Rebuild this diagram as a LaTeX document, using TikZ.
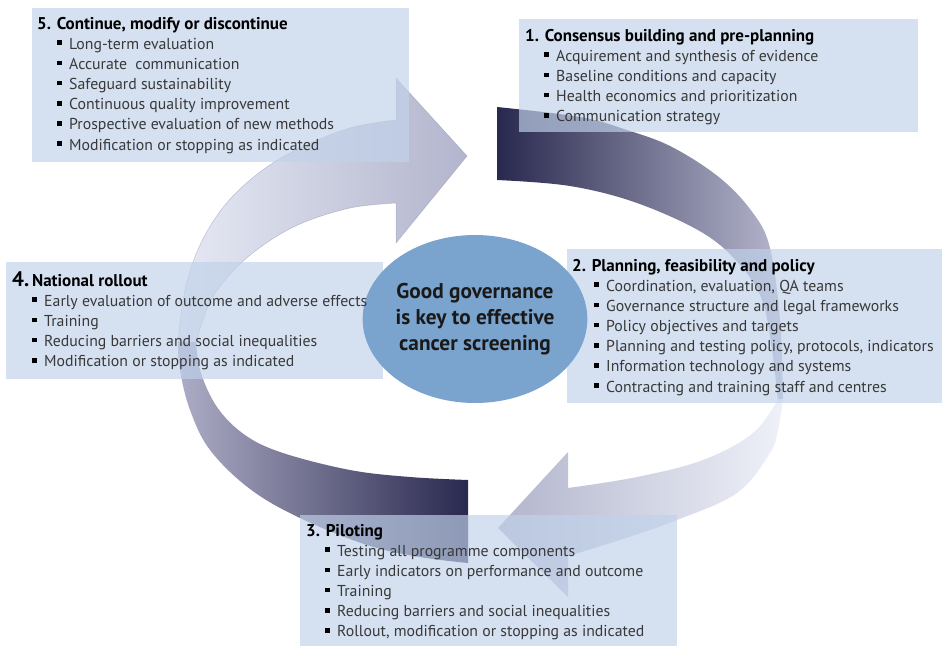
\documentclass[tikz,border=0pt]{standalone}
\usepackage{fontspec}
\setmainfont{PT Sans}
\usetikzlibrary{shapes.geometric}

\definecolor{panelfill}{HTML}{C0D2EA}
\definecolor{disc}{HTML}{7AA3CD}
\definecolor{itemtxt}{HTML}{383838}
\definecolor{navy}{HTML}{29284F}
\definecolor{navymid}{HTML}{6C6C90}
\definecolor{lav}{HTML}{B6B8CD}
\definecolor{lavlight}{HTML}{D2D5E5}
\definecolor{paleblue}{HTML}{EEF1F8}
\definecolor{headlav}{HTML}{B2B5CC}
\definecolor{greymid}{HTML}{8A8AAA}
\definecolor{greylight}{HTML}{ADADC6}
\definecolor{palelav}{HTML}{E6E9F4}
\definecolor{edge}{HTML}{8E8EA8}

\newcommand\bul{\makebox[12pt][l]{\textcolor{black}{\raisebox{4pt}{\rule{4.6pt}{4.6pt}}}}}

\tikzset{
  panel/.style={fill=panelfill, fill opacity=0.67, draw=none, inner sep=0pt,
                anchor=north west},
  ttl/.style={anchor=base west, inner sep=0pt, text=black,
              font=\bfseries\fontsize{17}{20}\selectfont},
  itm/.style={anchor=base west, inner sep=0pt, text=itemtxt,
              font=\fontsize{15.8}{19}\selectfont},
  rim/.style={draw=edge, draw opacity=0.5, line width=0.5pt},
}

\begin{document}
\begin{tikzpicture}[x=1pt, y=-1pt]
\useasboundingbox (0,0) rectangle (942,646);

% ---- right-hand ribbon arrow (phases 1 -> 3), upper half
\shade[left color=navy, middle color=navymid, right color=lav]
  plot[smooth, tension=0.6] coordinates {(497,107) (580,117) (627,130) (672,147) (720,178) (753,213) (770,248) (780,320) (783,401)}
  -- plot[smooth, tension=0.6] coordinates {(778,401) (772,350) (762,300) (740,265) (703,233) (637,203) (570,186) (497,180)}
  -- cycle;
% lower half with the head
\shade[left color=headlav, middle color=lavlight, right color=paleblue]
  plot[smooth, tension=0.6] coordinates {(783,399) (778,430) (770,453) (737,493) (677,520) (620,540) (568,556)}
  -- (568,597) -- (498,528) -- (568,452)
  -- plot[smooth, tension=0.6] coordinates {(568,488) (637,477) (703,460) (753,433) (778,399)}
  -- cycle;

% ---- left-hand ribbon arrow (phases 3 -> 5 -> 1), lower half with the tail
\shade[left color=greylight, middle color=greymid, right color=navy]
  plot[smooth, tension=0.6] coordinates {(468,563) (420,557) (367,545) (300,518) (250,489) (210,450) (190,410) (180,370) (178,338)}
  -- plot[smooth, tension=0.6] coordinates {(196,338) (200,370) (217,407) (245,435) (283,453) (350,470) (410,477) (468,480)}
  -- cycle;
% upper half with the head
\shade[left color=palelav, middle color=lavlight, right color=headlav, rim]
  plot[smooth, tension=0.6] coordinates {(178,342) (185,290) (200,245) (225,205) (260,172) (300,148) (350,128) (396,120)}
  -- (396,78) -- (467,156) -- (396,243)
  -- plot[smooth, tension=0.6] coordinates {(396,203) (350,208) (300,224) (262,246) (232,272) (210,302) (196,342)}
  -- cycle;

% ---- panels
\node[panel, minimum width=377pt, minimum height=154pt] (p5) at (32,8) {};
\node[panel, minimum width=399pt, minimum height=113pt] (p1) at (519,19) {};
\node[panel, minimum width=375pt, minimum height=154pt] (p2) at (567,249) {};
\node[panel, minimum width=377pt, minimum height=117pt] (p4) at (6,262) {};
\node[panel, minimum width=377pt, minimum height=131pt] (p3) at (300,515) {};

% ---- centre disc
\node[ellipse, fill=disc, minimum width=184pt, minimum height=168pt, inner sep=0pt,
      align=center, font=\bfseries\fontsize{21.3}{26}\selectfont, text=black!90]
  (core) at (475,319) {Good governance\\is key to effective\\cancer screening};

% ---- phase 5
\node[ttl] (t5) at (37,29) {5. Continue, modify or discontinue};
\foreach \t [count=\i from 0] in {Long-term evaluation, Accurate\ \ communication,
  Safeguard sustainability, Continuous quality improvement,
  Prospective evaluation of new methods, Modification or stopping as indicated}
  \node[itm] (i5-\i) at (57, 49+20.2*\i) {\bul\t};

% ---- phase 1
\node[ttl] (t1) at (525,41) {1. Consensus building and pre-planning};
\foreach \t [count=\i from 0] in {Acquirement and synthesis of evidence,
  Baseline conditions and capacity, Health economics and prioritization,
  Communication strategy}
  \node[itm] (i1-\i) at (544, 61+20.2*\i) {\bul\t};

% ---- phase 2
\node[ttl] (t2) at (572,271) {2. Planning, feasibility and policy};
\foreach \t [count=\i from 0] in {{Coordination, evaluation, QA teams},
  Governance structure and legal frameworks, Policy objectives and targets,
  {Planning and testing policy, protocols, indicators},
  Information technology and systems, Contracting and training staff and centres}
  \node[itm] (i2-\i) at (594, 291+20.2*\i) {\bul\t};

% ---- phase 3
\node[ttl] (t3) at (306,536) {3. Piloting};
\foreach \t [count=\i from 0] in {Testing all programme components,
  Early indicators on performance and outcome, Training,
  Reducing barriers and social inequalities,
  {Rollout, modification or stopping as indicated}}
  \node[itm] (i3-\i) at (325, 556+20.2*\i) {\bul\t};

% ---- phase 4
\node[ttl] (t4) at (12,286) {{\fontsize{21}{21}\selectfont 4.}\,National rollout};
\foreach \t [count=\i from 0] in {Early evaluation of outcome and adverse effects,
  Training, Reducing barriers and social inequalities,
  Modification or stopping as indicated}
  \node[itm] (i4-\i) at (32, 306+20.2*\i) {\bul\t};

\end{tikzpicture}
\end{document}
